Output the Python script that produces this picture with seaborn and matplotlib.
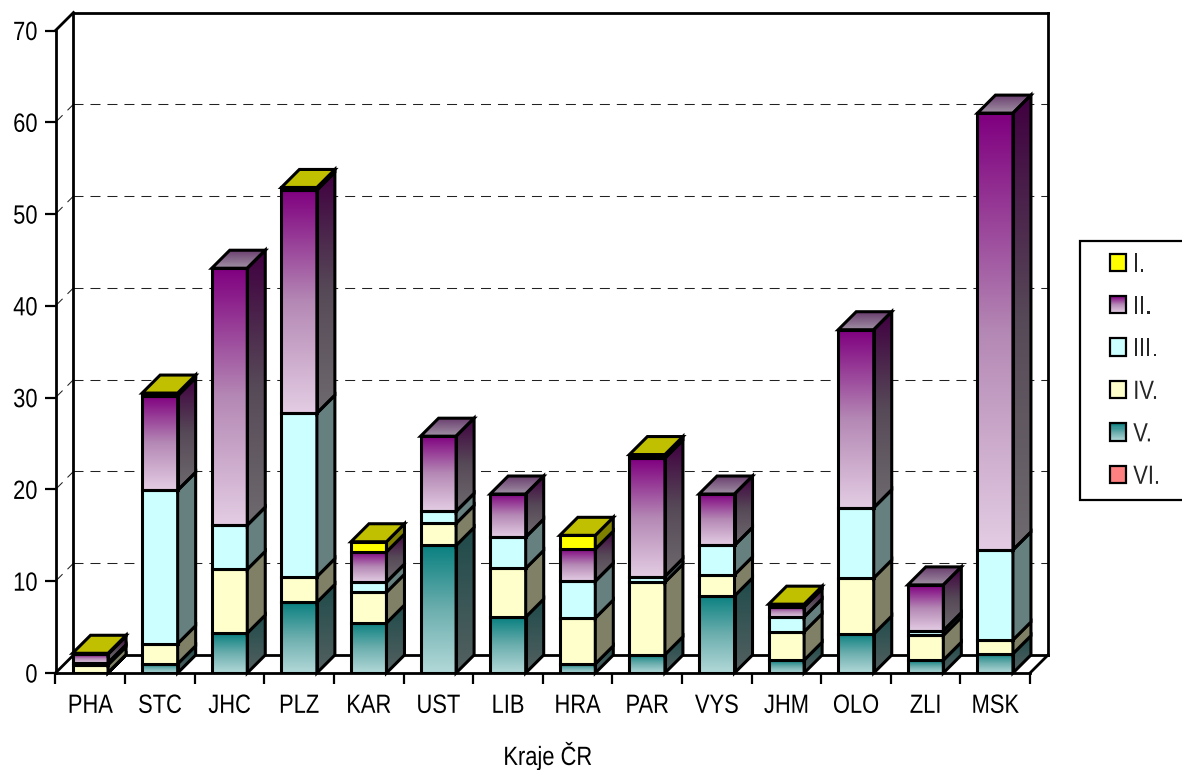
import numpy as np
import pandas as pd
import matplotlib
matplotlib.use("Agg")
import matplotlib.pyplot as plt
from matplotlib.colors import to_rgb
from matplotlib.patches import Patch, Polygon, Rectangle
from matplotlib.legend_handler import HandlerBase
from matplotlib.patheffects import AbstractPathEffect
from matplotlib.transforms import Affine2D
import seaborn as sns

regions = ["PHA", "STC", "JHC", "PLZ", "KAR", "UST", "LIB", "HRA", "PAR", "VYS", "JHM", "OLO", "ZLI", "MSK"]
val_VI = [0, 0, 0, 0, 0, 0, 0, 0, 0, 0, 0, 0, 0, 0]
val_V = [0.05, 1.0, 4.35, 7.7, 5.45, 13.9, 6.1, 1.0, 2.0, 8.4, 1.4, 4.25, 1.4, 2.1]
val_IV = [0.85, 2.2, 6.95, 2.8, 3.35, 2.4, 5.3, 5.0, 7.9, 2.3, 3.1, 6.1, 2.7, 1.5]
val_III = [0.2, 16.7, 4.8, 17.8, 1.1, 1.3, 3.4, 4.0, 0.6, 3.2, 1.6, 7.65, 0.5, 9.8]
val_II = [0.95, 10.3, 28.0, 24.3, 3.3, 8.2, 4.7, 3.5, 12.9, 5.6, 1.1, 19.4, 5.0, 47.6]
val_I = [0.1, 0.3, 0, 0.3, 1.1, 0, 0, 1.5, 0.4, 0, 0.3, 0, 0, 0]

W, H = 1182, 770
LW = 2.2
THIN = 1.6
FS = 19
SQUEEZE = 0.83

# stacking order, bottom to top: name, values, front gradient stops, side gradient stops
series = [
    ("VI.", val_VI, ("#FF8080",), ("#804040",)),
    ("V.", val_V, ("#0A8080", "#6CAEAE", "#B2D8D8"), ("#1F4A4A", "#3A5656", "#546060")),
    ("IV.", val_IV, ("#FFFFCC",), ("#808066",)),
    ("III.", val_III, ("#CCFFFF",), ("#668080",)),
    ("II.", val_II, ("#800080", "#B488B4", "#E3CCE3"), ("#400040", "#574A58", "#6E6A6E")),
    ("I.", val_I, ("#FFFF00",), ("#808000",)),
]
top_faces = {"I.": ("#C0C000",), "II.": ("#6A3F6E", "#A090A4")}

sns.set_theme(style="white")
plt.rcParams["font.family"] = ["Liberation Sans", "DejaVu Sans"]
plt.rcParams["axes.unicode_minus"] = False

fig = plt.figure(figsize=(W / 100, H / 100), dpi=100)
ax = fig.add_axes([55.5 / W, 1 - 673 / H, (1030 - 55.5) / W, (673 - 30.5) / H])

n = len(regions)
DX = 18 / ((1030 - 55.5) / n)
DY = 18 / ((673 - 30.5) / 70)


class Squeeze(AbstractPathEffect):
    """Condense a text horizontally about its anchor, as the reference's narrow face."""

    def __init__(self, text, anchor):
        super().__init__()
        self.text, self.anchor = text, anchor

    def draw_path(self, renderer, gc, tpath, affine, rgbFace=None):
        box = self.text.get_window_extent(fig.canvas.get_renderer())
        cx = {"left": box.x0, "right": box.x1, "center": (box.x0 + box.x1) / 2}[self.anchor]
        squeeze = Affine2D().translate(-cx, 0).scale(SQUEEZE, 1).translate(cx, 0)
        renderer.draw_path(gc, tpath, affine + squeeze, rgbFace)


def narrow(text, anchor):
    text.set_path_effects([Squeeze(text, anchor)])


def ramp(stops, steps):
    rgb = np.array([to_rgb(c) for c in stops])
    pos = np.linspace(0, 1, len(stops))
    t = np.linspace(0, 1, steps)
    return np.stack([np.interp(t, pos, rgb[:, k]) for k in range(3)], axis=1)


def gradient_image(stops, extent, clip):
    arr = ramp(stops, 64)[:, None, :]
    im = ax.imshow(arr, extent=extent, origin="upper", aspect="auto", interpolation="bilinear", zorder=2.5)
    im.set_clip_path(clip)
    im.set_clip_box(None)


def face(verts, colors):
    flat = len(colors) == 1
    poly = Polygon(verts, closed=True, facecolor=colors[0] if flat else "none", edgecolor="black",
                   linewidth=LW, zorder=3, clip_on=False, joinstyle="miter")
    ax.add_patch(poly)
    if not flat:
        v = np.array(verts)
        gradient_image(colors, [v[:, 0].min(), v[:, 0].max(), v[:, 1].min(), v[:, 1].max()], poly)


totals = np.sum([s[1] for s in series], axis=0)
bottoms = np.zeros(n)
for name, vals, front, side in series:
    vals = np.array(vals, dtype=float)
    keep = vals > 0
    if keep.any():
        before = len(ax.patches)
        df = pd.DataFrame({"region": np.array(regions)[keep], "value": vals[keep]})
        sns.barplot(data=df, x="region", y="value", order=regions, color=front[0], saturation=1,
                    width=0.51, errorbar=None, bottom=bottoms[keep], edgecolor="black", linewidth=LW,
                    zorder=3, ax=ax)
        bars = list(ax.patches[before:])
        ax.set_xlim(-0.5, n - 0.5)
        ax.set_ylim(0, 70)
        for bar in bars:
            x0, x1 = bar.get_x(), bar.get_x() + bar.get_width()
            y0, y1 = bar.get_y(), bar.get_y() + bar.get_height()
            bar.set_joinstyle("miter")
            if len(front) > 1:
                bar.set_facecolor("none")
                gradient_image(front, [x0, x1, y0, y1], bar)
            face([(x1, y0), (x1 + DX, y0 + DY), (x1 + DX, y1 + DY), (x1, y1)], side)
            if abs(y1 - totals[int(round((x0 + x1) / 2))]) < 1e-6:
                face([(x0, y1), (x0 + DX, y1 + DY), (x1 + DX, y1 + DY), (x1, y1)], top_faces[name])
    bottoms = bottoms + vals

# walls and floor of the 3D frame
left, right = -0.5, n - 0.5
wall = dict(color="black", lw=2.0, clip_on=False, zorder=1.5, solid_capstyle="projecting")
ax.plot([left + DX, left + DX], [DY, 70 + DY], **wall)
ax.plot([right + DX, right + DX], [DY, 70 + DY], **wall)
ax.plot([left + DX, right + DX], [70 + DY, 70 + DY], **wall)
ax.plot([left + DX, right + DX], [DY, DY], **wall)
ax.plot([left, left + DX], [0, DY], **wall)
ax.plot([right, right + DX], [0, DY], **wall)
ax.plot([left, left + DX], [70, 70 + DY], **wall)
for v in range(10, 70, 10):
    dash = dict(color="#222222", lw=0.75, clip_on=False, zorder=1, dashes=(9.6, 6.7))
    ax.plot([left + DX, right + DX], [v + DY, v + DY], **dash)
    ax.plot([left, left + DX], [v, v + DY], **dash)

# axes, ticks, labels
ax.set_xlim(left, right)
ax.set_ylim(0, 70)
ax.set_yticks(range(0, 80, 10))
ax.set_xticks(np.arange(left, right + 1))
ax.set_xticklabels([])
ax.set_xticks(np.arange(n), labels=regions, minor=True)
ax.tick_params(axis="x", which="major", direction="out", length=8, width=THIN, color="black", bottom=True)
ax.tick_params(axis="y", which="major", direction="out", length=8, width=THIN, color="black", left=True,
               labelsize=FS, pad=5, labelcolor="black")
ax.tick_params(axis="x", which="minor", length=0, pad=15, labelsize=FS, labelcolor="black", bottom=True)
ax.set_ylabel("")
ax.set_xlabel("Kraje ČR", fontsize=FS, color="black")
ax.xaxis.set_label_coords((547 - 55) / (1029 - 55), (673 - 742) / (673 - 30))
sns.despine(ax=ax)
for s in ("left", "bottom"):
    ax.spines[s].set_linewidth(2.0)
    ax.spines[s].set_color("black")
    ax.spines[s].set_zorder(4)
for t in ax.get_yticklabels():
    narrow(t, "right")
for t in ax.get_xticklabels(minor=True):
    narrow(t, "center")
narrow(ax.xaxis.label, "center")


# legend
class GradientHandler(HandlerBase):
    def __init__(self, stops):
        super().__init__()
        self.stops = stops

    def create_artists(self, legend, orig_handle, xdescent, ydescent, width, height, fontsize, trans):
        out = []
        steps = 17
        for i, col in enumerate(ramp(self.stops, steps)):
            out.append(Rectangle((-xdescent, -ydescent + height * (1 - (i + 1) / steps)), width, height / steps,
                                 facecolor=col, edgecolor="none", transform=trans))
        out.append(Rectangle((-xdescent, -ydescent), width, height, facecolor="none", edgecolor="black",
                             linewidth=THIN, transform=trans))
        return out


fig.add_artist(Rectangle((1079.5 / W, 1 - 500 / H), 200 / W, 259 / H, transform=fig.transFigure,
                         facecolor="white", edgecolor="black", linewidth=THIN, zorder=1))
handles, labels, hmap = [], [], {}
for name, vals, front, side in reversed(series):
    h = Patch(facecolor=front[0], edgecolor="black", linewidth=THIN)
    handles.append(h)
    labels.append(name)
    if len(front) > 1:
        hmap[h] = GradientHandler(front)
leg = fig.legend(handles, labels, handler_map=hmap, loc="upper left", bbox_to_anchor=(1109.5 / W, 1 - 252.5 / H),
                 borderpad=0, borderaxespad=0, frameon=False, fontsize=FS, handlelength=0.64, handleheight=0.64,
                 handletextpad=0.26, labelspacing=0.70)
leg.set_zorder(5)
for t in leg.get_texts():
    narrow(t, "left")

fig.savefig("out.png", dpi=100)
